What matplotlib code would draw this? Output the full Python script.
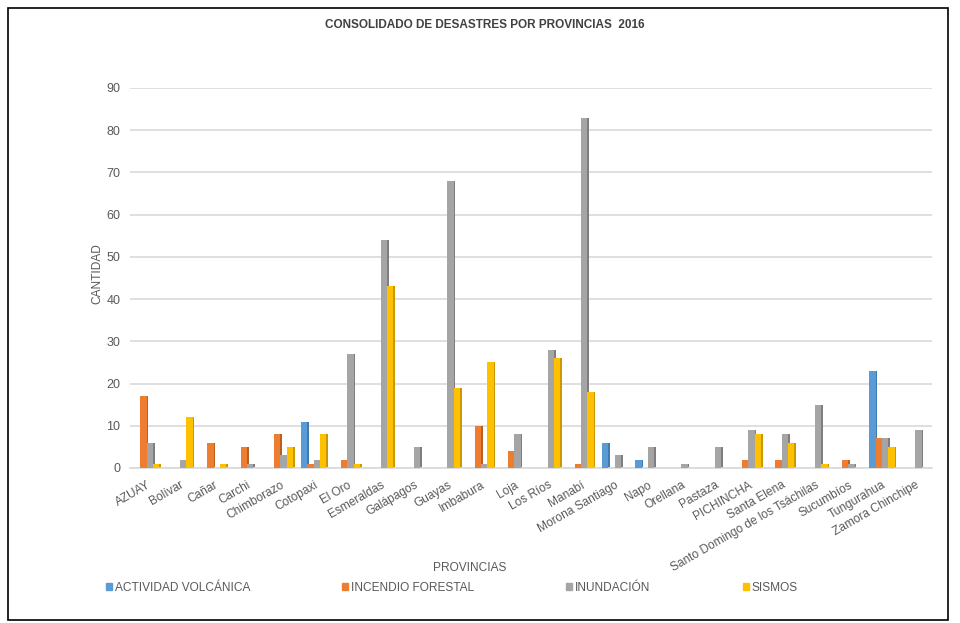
import matplotlib
matplotlib.use("Agg")
import matplotlib.pyplot as plt
from matplotlib.patches import Rectangle, Patch
import numpy as np

plt.rcParams['font.family'] = ['Liberation Sans', 'DejaVu Sans']

provincias = ["AZUAY", "Bolívar", "Cañar", "Carchi", "Chimborazo", "Cotopaxi", "El Oro",
              "Esmeraldas", "Galápagos", "Guayas", "Imbabura", "Loja", "Los Ríos", "Manabí",
              "Morona Santiago", "Napo", "Orellana", "Pastaza", "PICHINCHA", "Santa Elena",
              "Santo Domingo de los Tsáchilas", "Sucumbíos", "Tungurahua", "Zamora Chinchipe"]
actividad_volcanica = [0, 0, 0, 0, 0, 11, 0, 0, 0, 0, 0, 0, 0, 0, 6, 2, 0, 0, 0, 0, 0, 0, 23, 0]
incendio_forestal   = [17, 0, 6, 5, 8, 1, 2, 0, 0, 0, 10, 4, 0, 1, 0, 0, 0, 0, 2, 2, 0, 2, 7, 0]
inundacion          = [6, 2, 0, 1, 3, 2, 27, 54, 5, 68, 1, 8, 28, 83, 3, 5, 1, 5, 9, 8, 15, 1, 7, 9]
sismos              = [1, 12, 1, 0, 5, 8, 1, 43, 0, 19, 25, 0, 26, 18, 0, 0, 0, 0, 8, 6, 1, 0, 5, 0]

series = ["ACTIVIDAD VOLCÁNICA", "INCENDIO FORESTAL", "INUNDACIÓN", "SISMOS"]
values = [actividad_volcanica, incendio_forestal, inundacion, sismos]
colors = ["#5B9BD5", "#ED7D31", "#A5A5A5", "#FFC000"]
side_colors = ["#3F7AB0", "#B85F22", "#7E7E7E", "#C99700"]

fig = plt.figure(figsize=(9.6, 6.23), dpi=100)
ax = fig.add_axes([130/960, (623-468)/623, (932-130)/960, (468-88)/623])

x = np.arange(len(provincias))
w = 0.19
offsets = [-1.5*w, -0.5*w, 0.5*w, 1.5*w]
for vals, c, sc, off, name in zip(values, colors, side_colors, offsets, series):
    v = np.array(vals, dtype=float)
    mask = v > 0
    ax.bar(x[mask] + off, v[mask], width=w, color=c, zorder=3, label=name)
    ax.bar(x[mask] + off + w*0.5 + 0.025, v[mask], width=0.05, color=sc, zorder=2)

ax.set_xlim(-0.5, 23.5)
ax.set_ylim(0, 90)
ax.set_yticks(np.arange(0, 91, 10))
ax.yaxis.grid(True, color="#D9D9D9", lw=1.2, zorder=0)
ax.set_axisbelow(True)
for s in ["top", "right", "left"]:
    ax.spines[s].set_visible(False)
ax.spines["bottom"].set_color("#D9D9D9")
ax.spines["bottom"].set_linewidth(1.2)
ax.tick_params(axis="both", length=0, labelcolor="#595959")
ax.tick_params(axis="y", pad=7, labelsize=9)
ax.set_xticks(x)
ax.set_xticklabels(provincias, rotation=30, ha="right", rotation_mode="anchor", fontsize=8.6)
ax.tick_params(axis="x", pad=8)

fig.text(97.5/960, 1 - 274/623, "CANTIDAD", fontsize=8.6, color="#595959", rotation=90,
         ha="center", va="center")
fig.text(470/960, 1 - 568/623, "PROVINCIAS", fontsize=8.6, color="#595959", ha="center", va="center")
fig.text(485/960, 1 - 25/623, "CONSOLIDADO DE DESASTRES POR PROVINCIAS  2016", fontsize=8.5,
         fontweight="bold", color="#404040", ha="center", va="center")

handles = [Patch(color=c) for c in colors]
leg = fig.legend(handles, series, loc="center left", bbox_to_anchor=(106/960, 1 - 588/623),
                 ncol=4, frameon=False, fontsize=8.6, handlelength=0.5, handleheight=0.5,
                 handletextpad=0.25, columnspacing=7.7, labelcolor="#595959", borderaxespad=0,
                 borderpad=0)

fig.patches.append(Rectangle((8/960, 1 - 620/623), 940/960, 612/623, transform=fig.transFigure,
                             fill=False, edgecolor="black", lw=1.2))

fig.savefig("out.png", dpi=100)
